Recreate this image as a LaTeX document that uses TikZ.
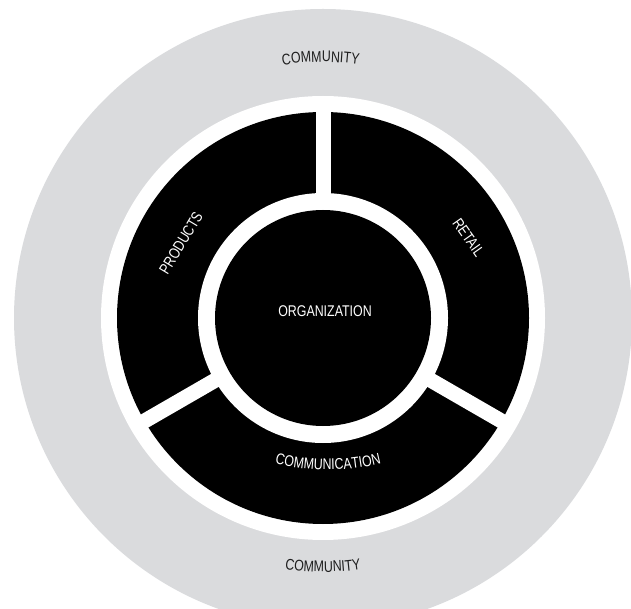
\documentclass[tikz,border=0pt]{standalone}
\usepackage{fontspec}
\newfontfamily\cond[FakeStretch=0.8]{Liberation Sans}
\usetikzlibrary{decorations.text,calc}
\definecolor{commgray}{RGB}{218,219,221}
\definecolor{inkdark}{RGB}{30,30,30}
\newcommand{\lblfont}{\cond\fontsize{15.5}{16}\selectfont}
\begin{document}
\begin{tikzpicture}[x=1pt,y=1pt,
  disk/.style={circle, inner sep=0pt, draw=none},
  lbl/.style={font=\lblfont, inner sep=0pt},
  curvedtext/.style={decorate, decoration={text along path, text align=center, text color=#1}},
]
\useasboundingbox (0,0) rectangle (631,608);
\fill[white] (0,0) rectangle (631,608);
\coordinate (C) at (323,290);
\node[disk, fill=commgray, minimum size=618pt] (community) at (C) {};
\node[disk, fill=white, minimum size=444pt] (gapouter) at (C) {};
\node[disk, fill=black, minimum size=412pt] (ring) at (C) {};
\foreach \a in {90,210,330} \draw[white, line width=15pt] (C) -- ++(\a:214pt);
\node[disk, fill=white, minimum size=250pt] (gapinner) at (C) {};
\node[disk, fill=black, minimum size=216pt] (org) at (C) {};
\node[lbl, text=white] (orglabel) at (325,297) {ORGANIZATION};
\node[lbl, text=white, rotate=59] (products) at (181,365) {PRODUCTS};
\node[lbl, text=white, rotate=-55] (retail) at (468.5,370.5) {RETAIL};
\path[curvedtext=inkdark, decoration={text={|\lblfont|COMMUNITY}}]
  ($(C)+(106:256pt)$) arc[start angle=106, end angle=75, radius=256pt];
\path[curvedtext=inkdark, decoration={text={|\lblfont|COMMUNITY}}]
  ($(C)+(250:254pt)$) arc[start angle=250, end angle=290, radius=254pt];
\coordinate (CC) at (328,358);
\path[curvedtext=white, decoration={text={|\lblfont|COMMUNICATION}}]
  ($(CC)+(245:220pt)$) arc[start angle=245, end angle=295, radius=220pt];
\end{tikzpicture}
\end{document}
